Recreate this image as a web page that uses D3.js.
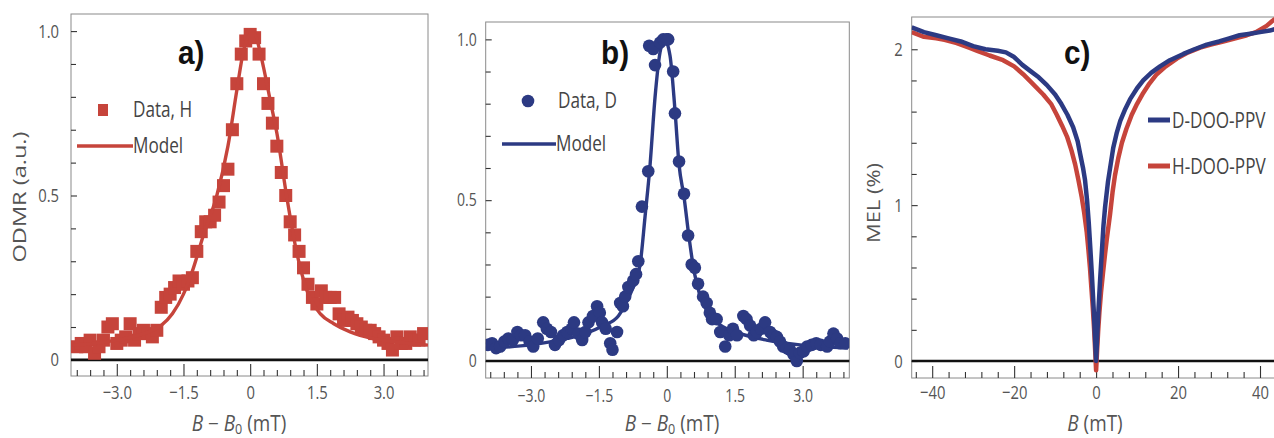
<!DOCTYPE html>
<html><head><meta charset="utf-8">
<script src="https://cdn.jsdelivr.net/npm/d3@7"></script>
<style>
body{margin:0;background:#fff;}
svg{display:block;background:#fff;}
text{font-family:"Open Sans","Liberation Sans",sans-serif;}
</style></head><body>
<svg id="chart" width="1274" height="438"></svg>
<script>
// ---------- Panel a: ODMR, H ----------
const aDataX = [-3.9,-3.8,-3.7,-3.6,-3.5,-3.4,-3.3,-3.2,-3.1,-3.0,-2.9,-2.8,-2.7,-2.6,-2.5,-2.4,-2.3,-2.2,-2.1,-2.0,-1.9,-1.8,-1.7,-1.6,-1.5,-1.4,-1.3,-1.2,-1.1,-1.0,-0.9,-0.8,-0.7,-0.6,-0.5,-0.4,-0.3,-0.2,-0.1,0.0,0.1,0.2,0.3,0.4,0.5,0.6,0.7,0.8,0.9,1.0,1.1,1.2,1.3,1.4,1.5,1.6,1.7,1.8,1.9,2.0,2.1,2.2,2.3,2.4,2.5,2.6,2.7,2.8,2.9,3.0,3.1,3.2,3.3,3.4,3.5,3.6,3.7,3.8,3.9];
const aDataY = [0.04,0.05,0.04,0.06,0.02,0.04,0.06,0.10,0.11,0.05,0.06,0.07,0.11,0.06,0.08,0.09,0.08,0.07,0.09,0.16,0.19,0.20,0.22,0.24,0.23,0.24,0.25,0.33,0.39,0.42,0.42,0.44,0.48,0.53,0.58,0.70,0.84,0.93,0.97,0.99,0.98,0.93,0.84,0.78,0.72,0.65,0.57,0.50,0.42,0.38,0.33,0.28,0.23,0.19,0.17,0.21,0.19,0.19,0.19,0.14,0.12,0.13,0.12,0.11,0.10,0.09,0.09,0.08,0.07,0.06,0.05,0.03,0.07,0.05,0.05,0.07,0.06,0.06,0.08];
const aModelX = [-4.0,-3.5,-3.0,-2.5,-2.2,-2.0,-1.75,-1.5,-1.3,-1.05,-0.75,-0.5,-0.3,-0.15,0.0,0.1,0.2,0.3,0.45,0.6,0.83,1.05,1.28,1.58,1.88,2.25,2.75,3.25,4.0];
const aModelY = [0.045,0.05,0.06,0.075,0.09,0.105,0.14,0.20,0.27,0.38,0.50,0.65,0.82,0.94,0.99,0.99,0.95,0.89,0.79,0.69,0.49,0.325,0.21,0.14,0.11,0.085,0.065,0.055,0.045];

// ---------- Panel b: ODMR, D ----------
const bDataX = [-3.95,-3.86,-3.77,-3.68,-3.59,-3.5,-3.4,-3.3,-3.22,-3.13,-3.03,-2.95,-2.85,-2.73,-2.65,-2.56,-2.47,-2.38,-2.29,-2.2,-2.1,-2.05,-1.96,-1.87,-1.8,-1.73,-1.63,-1.54,-1.48,-1.43,-1.35,-1.25,-1.2,-1.1,-1.03,-0.97,-0.92,-0.85,-0.74,-0.68,-0.63,-0.55,-0.41,-0.39,-0.3,-0.26,-0.15,-0.08,0.0,0.03,0.14,0.18,0.27,0.38,0.47,0.55,0.62,0.69,0.8,0.88,0.95,1.0,1.1,1.18,1.29,1.38,1.46,1.55,1.69,1.76,1.84,1.92,1.99,2.08,2.17,2.28,2.35,2.43,2.5,2.57,2.65,2.72,2.8,2.87,2.94,3.02,3.1,3.2,3.3,3.4,3.54,3.6,3.68,3.76,3.83,3.94];
const bDataY = [0.05,0.055,0.04,0.045,0.06,0.07,0.065,0.09,0.08,0.08,0.06,0.045,0.07,0.12,0.10,0.09,0.05,0.065,0.08,0.09,0.10,0.12,0.085,0.065,0.09,0.12,0.14,0.17,0.15,0.12,0.10,0.055,0.035,0.09,0.18,0.17,0.20,0.23,0.25,0.27,0.31,0.48,0.59,0.98,0.97,0.92,0.99,1.0,1.0,1.0,0.90,0.77,0.62,0.52,0.39,0.30,0.29,0.24,0.20,0.18,0.15,0.13,0.13,0.09,0.045,0.08,0.10,0.08,0.14,0.13,0.11,0.08,0.09,0.10,0.12,0.09,0.08,0.075,0.06,0.045,0.04,0.035,0.02,0.0,0.025,0.03,0.045,0.05,0.055,0.05,0.045,0.06,0.085,0.07,0.055,0.055];
const bModelX = [-4.0,-3.0,-2.2,-1.8,-1.4,-1.07,-0.9,-0.77,-0.59,-0.48,-0.37,-0.26,-0.15,-0.05,0.07,0.18,0.27,0.38,0.49,0.6,0.74,0.96,1.26,1.62,2.2,2.94,4.0];
const bModelY = [0.04,0.05,0.07,0.085,0.11,0.14,0.18,0.22,0.30,0.45,0.61,0.82,0.96,1.0,0.95,0.78,0.61,0.51,0.385,0.28,0.20,0.14,0.105,0.085,0.065,0.05,0.04];

// ---------- Panel c: MEL ----------
const dX = [-45,-42,-39,-36,-33,-30,-27,-24,-22,-20,-18,-16,-14,-12,-10,-8.5,-7,-5.6,-4.5,-3.9,-3.2,-2.7,-2.2,-1.8,-1.4,-1.0,-0.6,-0.3,0,0.3,0.6,1.0,1.4,1.8,2.2,2.9,3.9,4.2,5.0,5.9,7,8.3,10,11.5,13.5,15.6,18,21.3,24,27,30,32.5,35,37.6,40,42.4,45];
const dY = [2.14,2.11,2.09,2.07,2.05,2.02,2.00,1.99,1.98,1.95,1.90,1.86,1.82,1.77,1.71,1.65,1.58,1.50,1.41,1.33,1.24,1.16,1.03,0.89,0.72,0.54,0.34,0.17,0.0,0.17,0.34,0.53,0.70,0.87,0.99,1.15,1.32,1.37,1.46,1.54,1.61,1.68,1.75,1.80,1.85,1.89,1.93,1.97,2.00,2.03,2.05,2.07,2.09,2.10,2.11,2.12,2.14];
const hX = [-45,-42,-39,-37,-34,-31,-29,-26,-22.7,-20,-17.8,-15.5,-12.9,-11,-9.6,-8.3,-7.1,-6,-5.1,-4.3,-3.5,-2.9,-2.3,-1.9,-1.5,-1.1,-0.8,-0.5,-0.25,0,0.25,0.5,0.8,1.2,1.7,2.2,2.6,3.4,4.0,4.6,5.4,6.3,7.4,8.7,10,11.5,13,14.8,17,19.7,22.5,25.4,28,31,34,36.8,39,41.6,43.4,45];
const hY = [2.11,2.08,2.07,2.06,2.04,2.01,1.99,1.96,1.93,1.89,1.84,1.78,1.71,1.65,1.58,1.51,1.44,1.35,1.26,1.16,1.05,0.95,0.83,0.72,0.60,0.45,0.34,0.21,0.08,-0.06,0.07,0.19,0.31,0.44,0.57,0.69,0.78,0.94,1.08,1.19,1.30,1.40,1.49,1.58,1.65,1.72,1.78,1.84,1.89,1.94,1.98,2.01,2.03,2.05,2.07,2.09,2.11,2.15,2.19,2.21];

// ---------- ticks ----------
const odmrXMajor = [-3.0,-1.5,0,1.5,3.0];
const odmrXLabels = ["\u22123.0","\u22121.5","0","1.5","3.0"];
const odmrXMinor = [-3.9,-3.6,-3.3,-2.7,-2.4,-2.1,-1.8,-1.2,-0.9,-0.6,-0.3,0.3,0.6,0.9,1.2,1.8,2.1,2.4,2.7,3.3,3.6,3.9];
const odmrYMajor = [0,0.5,1.0];
const odmrYLabels = ["0","0.5","1.0"];
const odmrYMinor = [0.1,0.2,0.3,0.4,0.6,0.7,0.8,0.9];
const melXMajor = [-40,-20,0,20,40];
const melXLabels = ["\u221240","\u221220","0","20","40"];
const melXMinor = [-44,-36,-32,-28,-24,-16,-12,-8,-4,4,8,12,16,24,28,32,36,44];
const melYMajor = [0,1,2];
const melYLabels = ["0","1","2"];
const melYMinor = [0.2,0.4,0.6,0.8,1.2,1.4,1.6,1.8];

const RED = "#c6443b";
const BLUE = "#2c3a83";
const SX = 0.78;          // horizontal condensing of text
const svg = d3.select("#chart");
const defs = svg.append("defs");

function ctext(parent, x, y, str, size, fill, anchor, sx){
  const t = parent.append("g").attr("transform", `translate(${x},${y}) scale(${sx || SX},1)`)
    .append("text").attr("fill", fill || "#444").attr("text-anchor", anchor || "start")
    .style("font-size", size + "px");
  if (str !== null) t.text(str);
  return t;
}

function panel(cfg){
  const x = d3.scaleLinear().domain(cfg.xDomain).range([cfg.left, cfg.right]);
  const y = d3.scaleLinear().domain(cfg.yDomain).range([cfg.bottom, cfg.top]);
  const g = svg.append("g");
  defs.append("clipPath").attr("id", cfg.id + "clip").append("rect")
    .attr("x", cfg.left).attr("y", cfg.top).attr("width", cfg.right - cfg.left).attr("height", cfg.bottom - cfg.top);

  g.append("rect").attr("x", cfg.left).attr("y", cfg.top)
    .attr("width", cfg.right - cfg.left).attr("height", cfg.bottom - cfg.top)
    .attr("fill", "none").attr("stroke", "#8a8a8a").attr("stroke-width", 1);

  const styleAxis = (sel, leftPad) => {
    sel.select(".domain").remove();
    sel.selectAll(".tick line").attr("stroke", "#333").attr("stroke-width", 1.1);
    const tx = sel.selectAll(".tick text").attr("fill", "#555").style("font-size", cfg.tickFont + "px")
      .attr("transform", `scale(${SX},1)`);
    if (leftPad) tx.attr("x", -leftPad / SX);
  };
  g.append("g").attr("transform", `translate(0,${cfg.bottom})`)
    .call(d3.axisBottom(x).tickValues(cfg.xMinor).tickSize(-6).tickFormat(""))
    .call(s => styleAxis(s));
  g.append("g").attr("transform", `translate(0,${cfg.bottom})`)
    .call(d3.axisBottom(x).tickValues(cfg.xMajor).tickSize(-12).tickPadding(cfg.xPad)
      .tickFormat((d, i) => cfg.xLabels[i]))
    .call(s => styleAxis(s));
  g.append("g").attr("transform", `translate(${cfg.left},0)`)
    .call(d3.axisLeft(y).tickValues(cfg.yMinor).tickSize(-5).tickFormat(""))
    .call(s => styleAxis(s));
  g.append("g").attr("transform", `translate(${cfg.left},0)`)
    .call(d3.axisLeft(y).tickValues(cfg.yMajor).tickSize(-6).tickPadding(cfg.yPad)
      .tickFormat((d, i) => cfg.yLabels[i]))
    .call(s => styleAxis(s, cfg.yPad));

  g.append("line").attr("x1", cfg.left).attr("x2", cfg.right)
    .attr("y1", y(0)).attr("y2", y(0)).attr("stroke", "#111").attr("stroke-width", 2.6);

  const plot = g.append("g").attr("clip-path", `url(#${cfg.id}clip)`);
  return {x, y, g, plot};
}

function xTitle(g, cx, cy, simple){
  const t = ctext(g, cx, cy, null, 21, "#555", "middle", 0.9);
  t.append("tspan").attr("font-style", "italic").text("B");
  if (!simple) {
    t.append("tspan").text(" \u2212 ");
    t.append("tspan").attr("font-style", "italic").text("B");
    t.append("tspan").attr("dy", 3).style("font-size", "14px").text("0");
    t.append("tspan").attr("dy", -3).text(" (mT)");
  } else {
    t.append("tspan").text(" (mT)");
  }
}
function panelLabel(g, px, py, s){
  g.append("g").attr("transform", `translate(${px},${py}) scale(0.9,1)`)
    .append("text").attr("fill", "#111")
    .style("font-family", '"Liberation Sans",Arial,sans-serif')
    .style("font-size", "33px").style("font-weight", "bold").text(s);
}
function yTitle(g, cx, cy, str, len){
  g.append("text").attr("transform", `translate(${cx},${cy}) rotate(-90)`).attr("text-anchor", "middle")
    .attr("fill", "#555").style("font-size", "18px")
    .attr("textLength", len).attr("lengthAdjust", "spacingAndGlyphs").text(str);
}

// ===== Panel a =====
{
  const P = panel({id:"a", left:71, right:428, top:14, bottom:376,
    xDomain:[-4.03,4.0], yDomain:[-0.049,1.052],
    xMajor:odmrXMajor, xLabels:odmrXLabels, xMinor:odmrXMinor,
    yMajor:odmrYMajor, yLabels:odmrYLabels, yMinor:odmrYMinor,
    xPad:10, yPad:12, tickFont:19});
  const pts = aDataX.map((d, i) => [d, aDataY[i]]);
  P.plot.selectAll("rect.pt").data(pts).join("rect").attr("class", "pt")
    .attr("x", d => P.x(d[0]) - 6.5).attr("y", d => P.y(d[1]) - 6.5)
    .attr("width", 13).attr("height", 13).attr("fill", RED);
  P.plot.append("path").datum(aModelX.map((d, i) => [d, aModelY[i]]))
    .attr("d", d3.line().x(d => P.x(d[0])).y(d => P.y(d[1])).curve(d3.curveMonotoneX))
    .attr("fill", "none").attr("stroke", RED).attr("stroke-width", 3.4);
  P.g.append("rect").attr("x", 98).attr("y", 104).attr("width", 10).attr("height", 12).attr("fill", RED);
  ctext(P.g, 133, 117, "Data, H", 22);
  P.g.append("line").attr("x1", 77).attr("x2", 133).attr("y1", 146).attr("y2", 146).attr("stroke", RED).attr("stroke-width", 3.5);
  ctext(P.g, 133, 153, "Model", 22);
  panelLabel(P.g, 178, 64, "a)");
  xTitle(P.g, 239, 431, false);
  yTitle(P.g, 26, 197, "ODMR (a.u.)", 131);
}

// ===== Panel b =====
{
  const P = panel({id:"b", left:485.7, right:849.3, top:22, bottom:378,
    xDomain:[-4.0,4.03], yDomain:[-0.053,1.054],
    xMajor:odmrXMajor, xLabels:odmrXLabels, xMinor:odmrXMinor,
    yMajor:odmrYMajor, yLabels:odmrYLabels, yMinor:odmrYMinor,
    xPad:11, yPad:9, tickFont:18});
  P.plot.append("path").datum(bModelX.map((d, i) => [d, bModelY[i]]))
    .attr("d", d3.line().x(d => P.x(d[0])).y(d => P.y(d[1])).curve(d3.curveMonotoneX))
    .attr("fill", "none").attr("stroke", BLUE).attr("stroke-width", 3.4);
  const pts = bDataX.map((d, i) => [d, bDataY[i]]);
  P.plot.selectAll("circle.pt").data(pts).join("circle").attr("class", "pt")
    .attr("cx", d => P.x(d[0])).attr("cy", d => P.y(d[1])).attr("r", 6.3).attr("fill", BLUE);
  P.g.append("circle").attr("cx", 528).attr("cy", 101).attr("r", 6.3).attr("fill", BLUE);
  ctext(P.g, 558, 108, "Data, D", 22);
  P.g.append("line").attr("x1", 502).attr("x2", 556).attr("y1", 144).attr("y2", 144).attr("stroke", BLUE).attr("stroke-width", 3.5);
  ctext(P.g, 556, 151, "Model", 22);
  panelLabel(P.g, 601, 64, "b)");
  xTitle(P.g, 672, 431, false);
}

// ===== Panel c =====
{
  const P = panel({id:"c", left:911.7, right:1280.5, top:17, bottom:378,
    xDomain:[-45,45], yDomain:[-0.109,2.207],
    xMajor:melXMajor, xLabels:melXLabels, xMinor:melXMinor,
    yMajor:melYMajor, yLabels:melYLabels, yMinor:melYMinor,
    xPad:8, yPad:9, tickFont:19});
  const line = d3.line().x(d => P.x(d[0])).y(d => P.y(d[1]));
  P.plot.append("path").datum(hX.map((d, i) => [d, hY[i]])).attr("d", line)
    .attr("fill", "none").attr("stroke", RED).attr("stroke-width", 4.5).attr("stroke-linejoin", "round");
  P.plot.append("path").datum(dX.map((d, i) => [d, dY[i]])).attr("d", line)
    .attr("fill", "none").attr("stroke", BLUE).attr("stroke-width", 4.5).attr("stroke-linejoin", "round");
  P.g.append("line").attr("x1", 1148).attr("x2", 1170).attr("y1", 120).attr("y2", 120).attr("stroke", BLUE).attr("stroke-width", 5);
  ctext(P.g, 1172, 128, "D-DOO-PPV", 22);
  P.g.append("line").attr("x1", 1148).attr("x2", 1170).attr("y1", 166).attr("y2", 166).attr("stroke", RED).attr("stroke-width", 5);
  ctext(P.g, 1172, 174, "H-DOO-PPV", 22);
  panelLabel(P.g, 1064, 64, "c)");
  xTitle(P.g, 1095, 431, true);
  yTitle(P.g, 880, 203, "MEL (%)", 80);
}
</script>
</body></html>
